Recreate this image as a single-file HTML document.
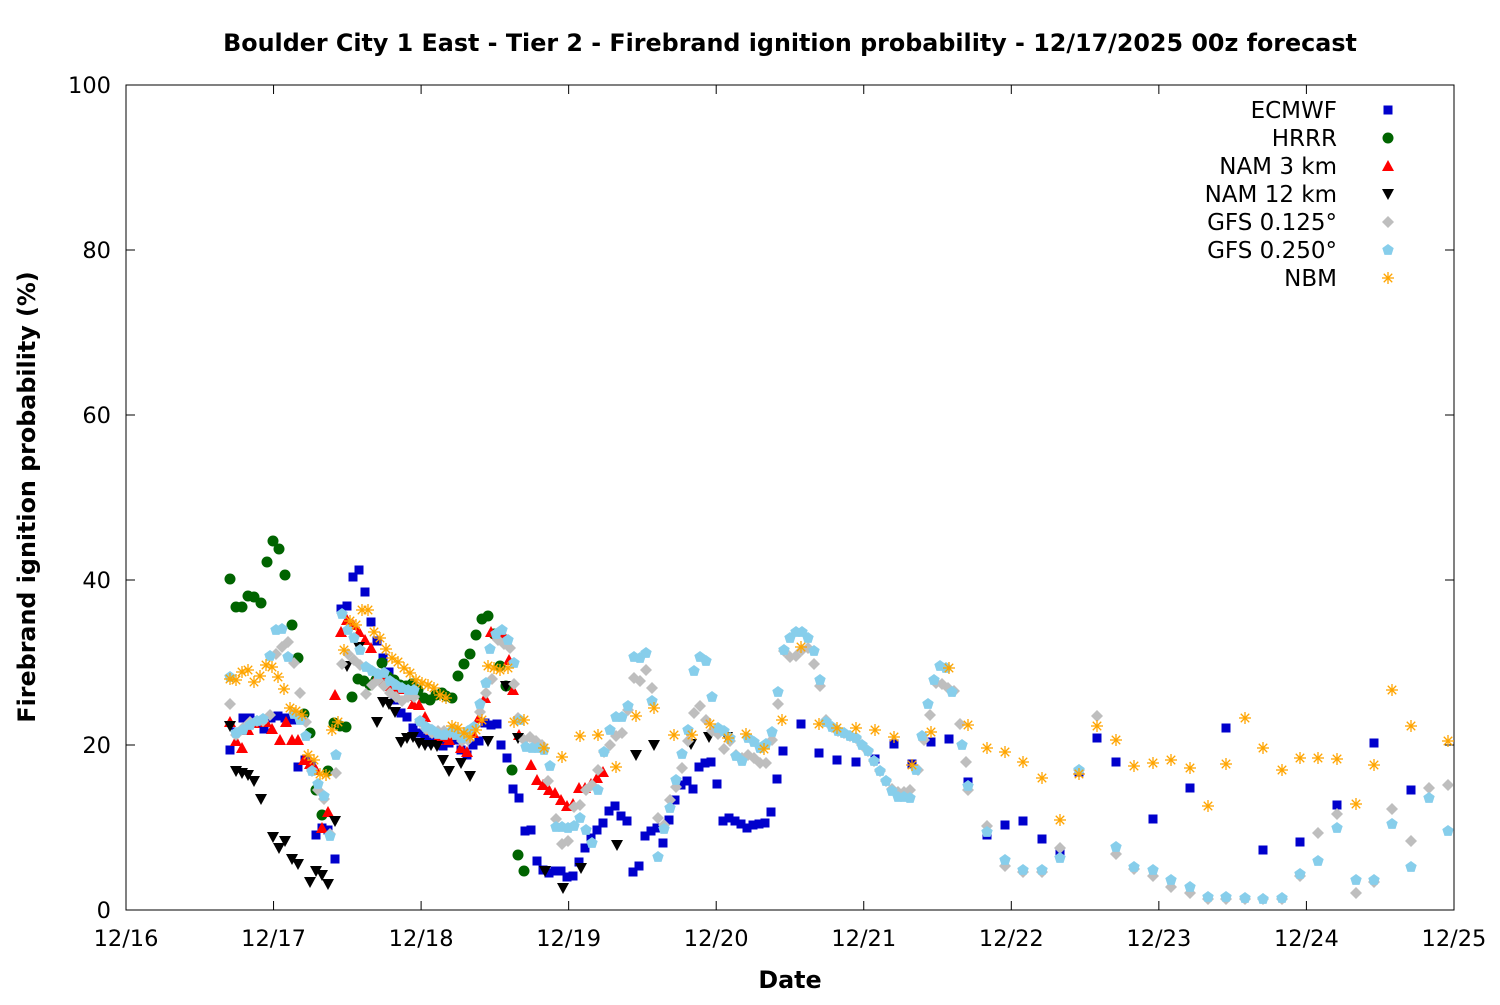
<!DOCTYPE html>
<html><head><meta charset="utf-8"><style>
body{margin:0;background:#fff}
svg text{font-family:"DejaVu Sans","Liberation Sans",sans-serif}
</style></head><body>
<svg id="s" width="1500" height="1000" viewBox="0 0 1500 1000" xmlns="http://www.w3.org/2000/svg">
<rect width="1500" height="1000" fill="#fff"/>
<text x="790" y="51" font-size="23.8" font-weight="bold" text-anchor="middle">Boulder City 1 East - Tier 2 - Firebrand ignition probability - 12/17/2025 00z forecast</text>
<text transform="translate(35,497) rotate(-90)" font-size="23.8" font-weight="bold" text-anchor="middle">Firebrand ignition probability (%)</text>
<text x="790" y="988" font-size="23.8" font-weight="bold" text-anchor="middle">Date</text>
<g id="ax" stroke="#000" stroke-width="1" fill="none"><rect x="126" y="85" width="1328" height="825"/></g>
<g id="lab" font-size="22.5"></g>
<g id="pts"></g>
<g font-size="23" text-anchor="end">
<text x="1337" y="118">ECMWF</text><text x="1337" y="146">HRRR</text><text x="1337" y="174">NAM 3 km</text><text x="1337" y="202">NAM 12 km</text><text x="1337" y="230">GFS 0.125°</text><text x="1337" y="258">GFS 0.250°</text><text x="1337" y="286">NBM</text>
</g>
<g id="leg"></g>
</svg>
<script>
const NS="http://www.w3.org/2000/svg";
function el(p,t,a){const e=document.createElementNS(NS,t);for(const k in a)e.setAttribute(k,a[k]);p.appendChild(e);return e;}
const ax=document.getElementById('ax'),lab=document.getElementById('lab');
for(let i=0;i<=5;i++){const y=910-i*165;
 if(i>0&&i<5){el(ax,'line',{x1:126,y1:y,x2:135,y2:y});el(ax,'line',{x1:1454,y1:y,x2:1445,y2:y});}
 const t=el(lab,'text',{x:111,y:y+8,'text-anchor':'end'});t.textContent=i*20;}
const dl=['12/16','12/17','12/18','12/19','12/20','12/21','12/22','12/23','12/24','12/25'];
for(let i=0;i<10;i++){const x=126+147.55*i;
 if(i>0&&i<9){el(ax,'line',{x1:x,y1:910,x2:x,y2:901});el(ax,'line',{x1:x,y1:85,x2:x,y2:94});}
 const t=el(lab,'text',{x:x,y:946,'text-anchor':'middle'});t.textContent=dl[i];}
function P(s){const a=s.trim().split(/;\s*/).map(p=>p.split(',').map(Number));return a;}
const D={
ec:"230,750;236,732;243,718;250,718;257,723;264,729;271,718;278,716;285,718;292,720;298,767;305,760;311,764;316,835;322,828;328,830;335,859;341,609;347,606;353,577;359,570;365,592;371,622;377,641;383,658;389,672;395,700;401,713;407,717;413,728;419,733;425,738;431,742;437,742;443,746;449,743;455,740;461,750;467,755;473,745;479,741;485,723;491,725;497,724;501,745;507,758;513,789;519,798;525,831;531,830;537,861;543,870;549,873;555,871;561,871;567,877;573,876;579,862;585,848;591,838;597,830;603,823;609,811;615,806;621,816;627,821;633,872;639,866;645,836;651,831;657,828;663,843;669,820;675,800;681,785;687,781;693,789;699,767;705,763;711,762;717,784;723,821;729,818;735,821;741,824;747,828;753,825;759,824;765,823;771,812;777,779;783,751;801,724;819,753;837,760;856,762;875,759;894,744;912,764;931,742;949,739;968,782;987,835;1005,825;1023,821;1042,839;1060,853;1079,772;1097,738;1116,762;1153,819;1190,788;1226,728;1263,850;1300,842;1337,805;1374,743;1411,790",
hr:"230,579;236,607;242,607;248,596;254,597;261,603;267,562;273,541;279,549;285,575;292,625;298,658;304,714;310,733;316,790;322,815;328,771;334,723;340,726;346,727;352,697;358,679;364,681;370,685;376,680;382,663;388,677;394,680;400,685;406,686;412,684;418,690;424,698;430,700;436,695;442,693;446,696;452,698;458,676;464,664;470,654;476,635;482,619;488,616;494,634;500,666;506,686;512,770;518,855;524,871",
n3:"230,722;236,741;242,748;248,730;254,723;266,722;272,729;280,740;286,722;292,740;298,740;304,760;310,764;316,770;322,828;328,812;335,695;341,632;347,620;353,625;359,632;365,640;371,648;377,677;383,680;389,686;395,687;401,689;407,696;413,704;419,705;425,717;431,730;437,740;443,737;449,740;455,735;461,748;467,752;473,733;479,718;485,698;491,632;497,634;503,634;509,660;513,690;519,735;531,765;537,780;543,785;549,790;555,793;561,800;567,806;573,804;579,788;585,788;591,784;597,778;603,772",
n12:"230,726;236,771;242,773;248,775;254,781;261,799;273,837;279,848;285,841;292,859;298,864;310,882;316,871;322,875;328,884;335,821;347,666;359,647;377,722;383,702;389,704;395,712;401,742;407,738;413,737;419,743;425,745;431,745;437,746;443,760;449,771;461,763;470,776;488,741;506,686;518,738;545,871;563,888;581,868;617,845;636,755;654,745;691,744;709,737;727,737",
g1:"230,704;236,735;243,728;250,722;257,721;263,721;270,715;276,654;282,647;288,642;294,663;300,693;306,722;312,771;318,790;324,799;330,834;336,773;342,664;348,654;354,660;360,665;366,694;372,685;378,680;384,686;390,693;396,697;402,701;408,697;414,697;420,722;426,729;432,733;438,731;444,731;450,733;456,730;462,741;468,740;474,727;480,712;486,693;492,679;498,640;504,644;510,648;514,684;518,718;524,740;530,737;536,741;542,745;548,781;556,819;562,844;568,841;574,807;580,805;586,790;592,785;598,770;604,752;610,745;616,736;622,733;628,710;634,678;640,681;646,670;652,688;658,818;664,825;670,800;676,787;682,768;688,741;694,713;700,706;706,720;712,731;718,734;724,749;730,741;736,755;742,758;748,755;754,758;760,763;766,763;772,740;778,704;784,651;790,657;796,656;802,650;808,648;814,664;820,686;826,720;832,727;838,731;844,733;850,736;856,738;862,745;868,751;874,761;880,771;886,781;892,789;898,792;904,792;910,790;918,770;924,740;930,715;936,683;942,684;948,688;954,691;960,724;966,762;968,790;987,826;1005,866;1023,872;1042,872;1060,848;1079,770;1097,716;1116,854;1134,869;1153,876;1171,887;1190,893;1208,899;1226,899;1245,899;1263,899;1282,899;1300,876;1318,833;1337,814;1356,893;1374,882;1392,809;1411,841;1429,788;1448,785",
g2:"230,677;236,733;243,730;250,725;257,721;263,719;270,656;276,630;282,629;288,657;294,714;300,720;306,736;312,771;318,784;324,796;330,836;336,755;342,614;348,630;354,638;360,650;366,667;372,671;378,674;384,673;390,681;396,685;402,688;408,690;414,690;420,721;426,727;432,730;438,734;444,735;450,732;456,735;462,738;468,731;474,727;480,704;486,683;490,649;496,634;502,630;508,640;514,663;520,720;526,747;532,748;538,748;544,750;550,766;556,827;562,827;568,828;574,826;580,818;586,830;592,843;598,790;604,752;610,730;616,717;622,717;628,706;634,657;640,658;646,653;652,701;658,857;664,829;670,808;676,780;682,754;688,730;694,671;700,657;706,661;712,697;718,728;724,731;730,738;736,756;742,761;748,738;754,742;760,748;766,744;772,732;778,692;784,650;790,638;796,632;802,632;808,638;814,651;820,680;826,722;832,727;838,731;844,733;850,736;856,738;862,745;868,751;874,761;880,771;886,781;892,791;898,797;904,797;910,798;916,770;922,736;928,704;934,680;940,666;946,668;952,692;962,745;968,786;987,832;1005,860;1023,870;1042,870;1060,858;1079,770;1116,847;1134,867;1153,870;1171,880;1190,887;1208,897;1226,897;1245,898;1263,899;1282,898;1300,874;1318,861;1337,828;1356,880;1374,880;1392,824;1411,867;1429,798;1448,831",
nb:"230,679;236,680;242,672;248,670;254,682;260,676;266,665;272,667;278,677;284,689;290,708;296,711;302,715;308,755;314,760;320,774;326,775;332,730;338,722;344,650;350,621;356,625;362,610;368,610;374,632;380,638;386,649;392,658;398,662;404,668;410,673;416,680;422,683;428,685;434,688;440,695;446,698;452,726;458,728;464,733;470,737;476,730;482,720;488,666;494,668;500,670;508,668;514,722;524,720;544,748;562,757;580,736;598,735;616,767;636,716;654,708;674,735;692,735;710,724;728,738;746,734;764,749;782,720;801,647;819,724;837,728;856,728;875,730;894,737;912,765;931,732;949,668;968,725;987,748;1005,752;1023,762;1042,778;1060,820;1079,774;1097,726;1116,740;1134,766;1153,763;1171,760;1190,768;1208,806;1226,764;1245,718;1263,748;1282,770;1300,758;1318,758;1337,759;1356,804;1374,765;1392,690;1411,726;1448,741"};
const g=document.getElementById('pts');
function sym(p,k,x,y){
 if(k=='ec')el(p,'rect',{x:x-4.5,y:y-4.5,width:9,height:9,fill:'#0000cc'});
 else if(k=='hr')el(p,'circle',{cx:x,cy:y,r:5.5,fill:'#006400'});
 else if(k=='n3')el(p,'polygon',{points:`${x},${y-6} ${x-6},${y+5} ${x+6},${y+5}`,fill:'#ff0000'});
 else if(k=='n12')el(p,'polygon',{points:`${x},${y+6} ${x-6},${y-5} ${x+6},${y-5}`,fill:'#000'});
 else if(k=='g1')el(p,'polygon',{points:`${x},${y-6} ${x+6},${y} ${x},${y+6} ${x-6},${y}`,fill:'#bebebe'});
 else if(k=='g2'){let s='';for(let i=0;i<5;i++){const a=-Math.PI/2+i*2*Math.PI/5;s+=(x+6*Math.cos(a))+','+(y+6*Math.sin(a))+' ';}el(p,'polygon',{points:s,fill:'#87ceeb'});}
 else if(k=='nb'){const gg=el(p,'g',{stroke:'#ffa500','stroke-width':1.3});
  for(let i=0;i<4;i++){const a=i*Math.PI/4;el(gg,'line',{x1:x-6*Math.cos(a),y1:y-6*Math.sin(a),x2:x+6*Math.cos(a),y2:y+6*Math.sin(a)});}}
}
const order=['ec','hr','n3','n12','g1','g2','nb'];
order.forEach(k=>P(D[k]).forEach(([x,y])=>sym(g,k,x,y)));
const lg=document.getElementById('leg');
order.forEach((k,i)=>sym(lg,k,1388,110+28*i));
</script>
</body></html>
